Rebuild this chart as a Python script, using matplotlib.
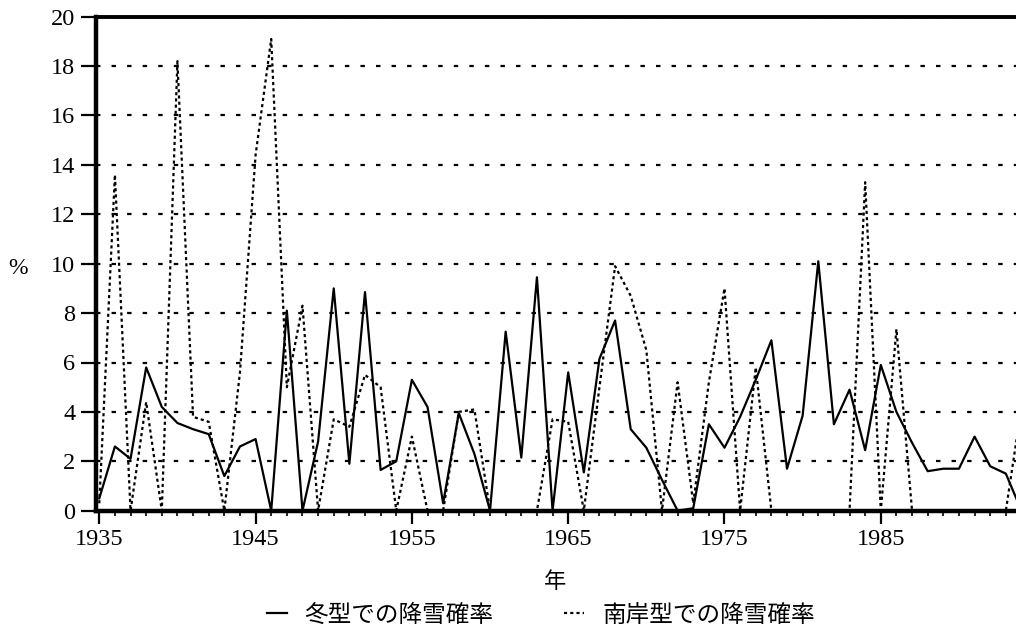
import numpy as np
import matplotlib
matplotlib.use("Agg")
import matplotlib.pyplot as plt
from matplotlib.ticker import MultipleLocator

plt.rcParams['font.family'] = ['Liberation Serif', 'Noto Sans CJK JP']

# 年ごとの降雪確率 (%)
YEARS = np.arange(1935, 1995)
WINTER = [0.5, 2.6, 2.1, 5.8, 4.2, 3.55, 3.3, 3.1, 1.4, 2.6,      # 1935-1944
          2.9, 0.0, 8.1, 0.0, 2.8, 9.0, 1.9, 8.85, 1.65, 2.0,     # 1945-1954
          5.3, 4.2, 0.3, 3.95, 2.3, 0.0, 7.25, 2.15, 9.45, 0.0,   # 1955-1964
          5.6, 1.55, 6.15, 7.7, 3.3, 2.55, 1.25, 0.0, 0.1, 3.5,   # 1965-1974
          2.55, 3.8, 5.3, 6.9, 1.7, 3.85, 10.1, 3.5, 4.9, 2.45,   # 1975-1984
          5.9, 4.0, 2.75, 1.6, 1.7, 1.7, 3.0, 1.8, 1.5, 0.0]      # 1985-1994
SOUTH = [0.3, 13.6, 0.0, 4.4, 0.0, 18.2, 3.8, 3.6, 0.0, 5.6,      # 1935-1944
         14.4, 19.1, 5.0, 8.3, 0.0, 3.7, 3.4, 5.5, 5.0, 0.0,      # 1945-1954
         3.0, 0.0, 0.0, 4.0, 4.1, 0.0, 0.0, 0.0, 0.0, 3.7,        # 1955-1964
         3.6, 0.0, 5.0, 9.9, 8.7, 6.5, 0.0, 5.2, 0.3, 5.2,        # 1965-1974
         9.0, 0.0, 5.8, 0.0, 0.0, 0.0, 0.0, 0.0, 0.0, 13.3,       # 1975-1984
         0.0, 7.35, 0.0, 0.0, 0.0, 0.0, 0.0, 0.0, 0.0, 4.2]       # 1985-1994
LABELS = ["冬型での降雪確率", "南岸型での降雪確率"]
XTICKS = [1935, 1945, 1955, 1965, 1975, 1985]

W, H = 1016, 626
fig = plt.figure(figsize=(W / 100, H / 100), dpi=100)
ax = fig.add_axes([96 / W, 1 - 510.7 / H, 1 - 96 / W, (510.7 - 16.7) / H])

l1, = ax.plot(YEARS, WINTER, color="black", linewidth=1.6, linestyle="-")
l2, = ax.plot(YEARS, SOUTH, color="black", linewidth=1.6,
              linestyle=(0, (1.4, 1.4)))

ax.set_xlim(1934.79, 1993.65)
ax.set_ylim(0, 20)

# 軸の体裁
ax.spines['right'].set_visible(False)
ax.spines['left'].set_linewidth(3.2)
ax.spines['bottom'].set_linewidth(3.2)
ax.spines['top'].set_linewidth(2.8)

ax.set_yticks(range(0, 21, 2))
ax.set_xticks(XTICKS)
ax.xaxis.set_minor_locator(MultipleLocator(1))
ax.tick_params(axis='y', direction='out', length=11, width=1.6, pad=4,
               labelsize=17.5)
ax.tick_params(axis='x', which='major', direction='out', length=9.5,
               width=1.6, pad=4, labelsize=17.5)
ax.tick_params(axis='x', which='minor', direction='out', length=3.8,
               width=1.2)

# 横方向の点線グリッド
ax.yaxis.grid(True, color="black", linewidth=1.6, linestyle=(0, (2, 5)))
ax.set_axisbelow(True)

fig.text(18 / W, 1 - 268 / H, "%", fontsize=17, ha="center", va="center")
fig.text(555 / W, 1 - 581 / H, "年", fontsize=16, ha="center", va="center",
         family=['Noto Sans CJK JP'])

fig.legend([l1, l2], LABELS, loc="center left",
           bbox_to_anchor=(266.7 / W, 1 - 615 / H), ncol=2, frameon=False,
           borderpad=0, borderaxespad=0, handlelength=0.85,
           handletextpad=0.75, columnspacing=3.0,
           prop={'family': ['Noto Sans CJK JP'], 'size': 17})

fig.savefig("out.png", dpi=100)
